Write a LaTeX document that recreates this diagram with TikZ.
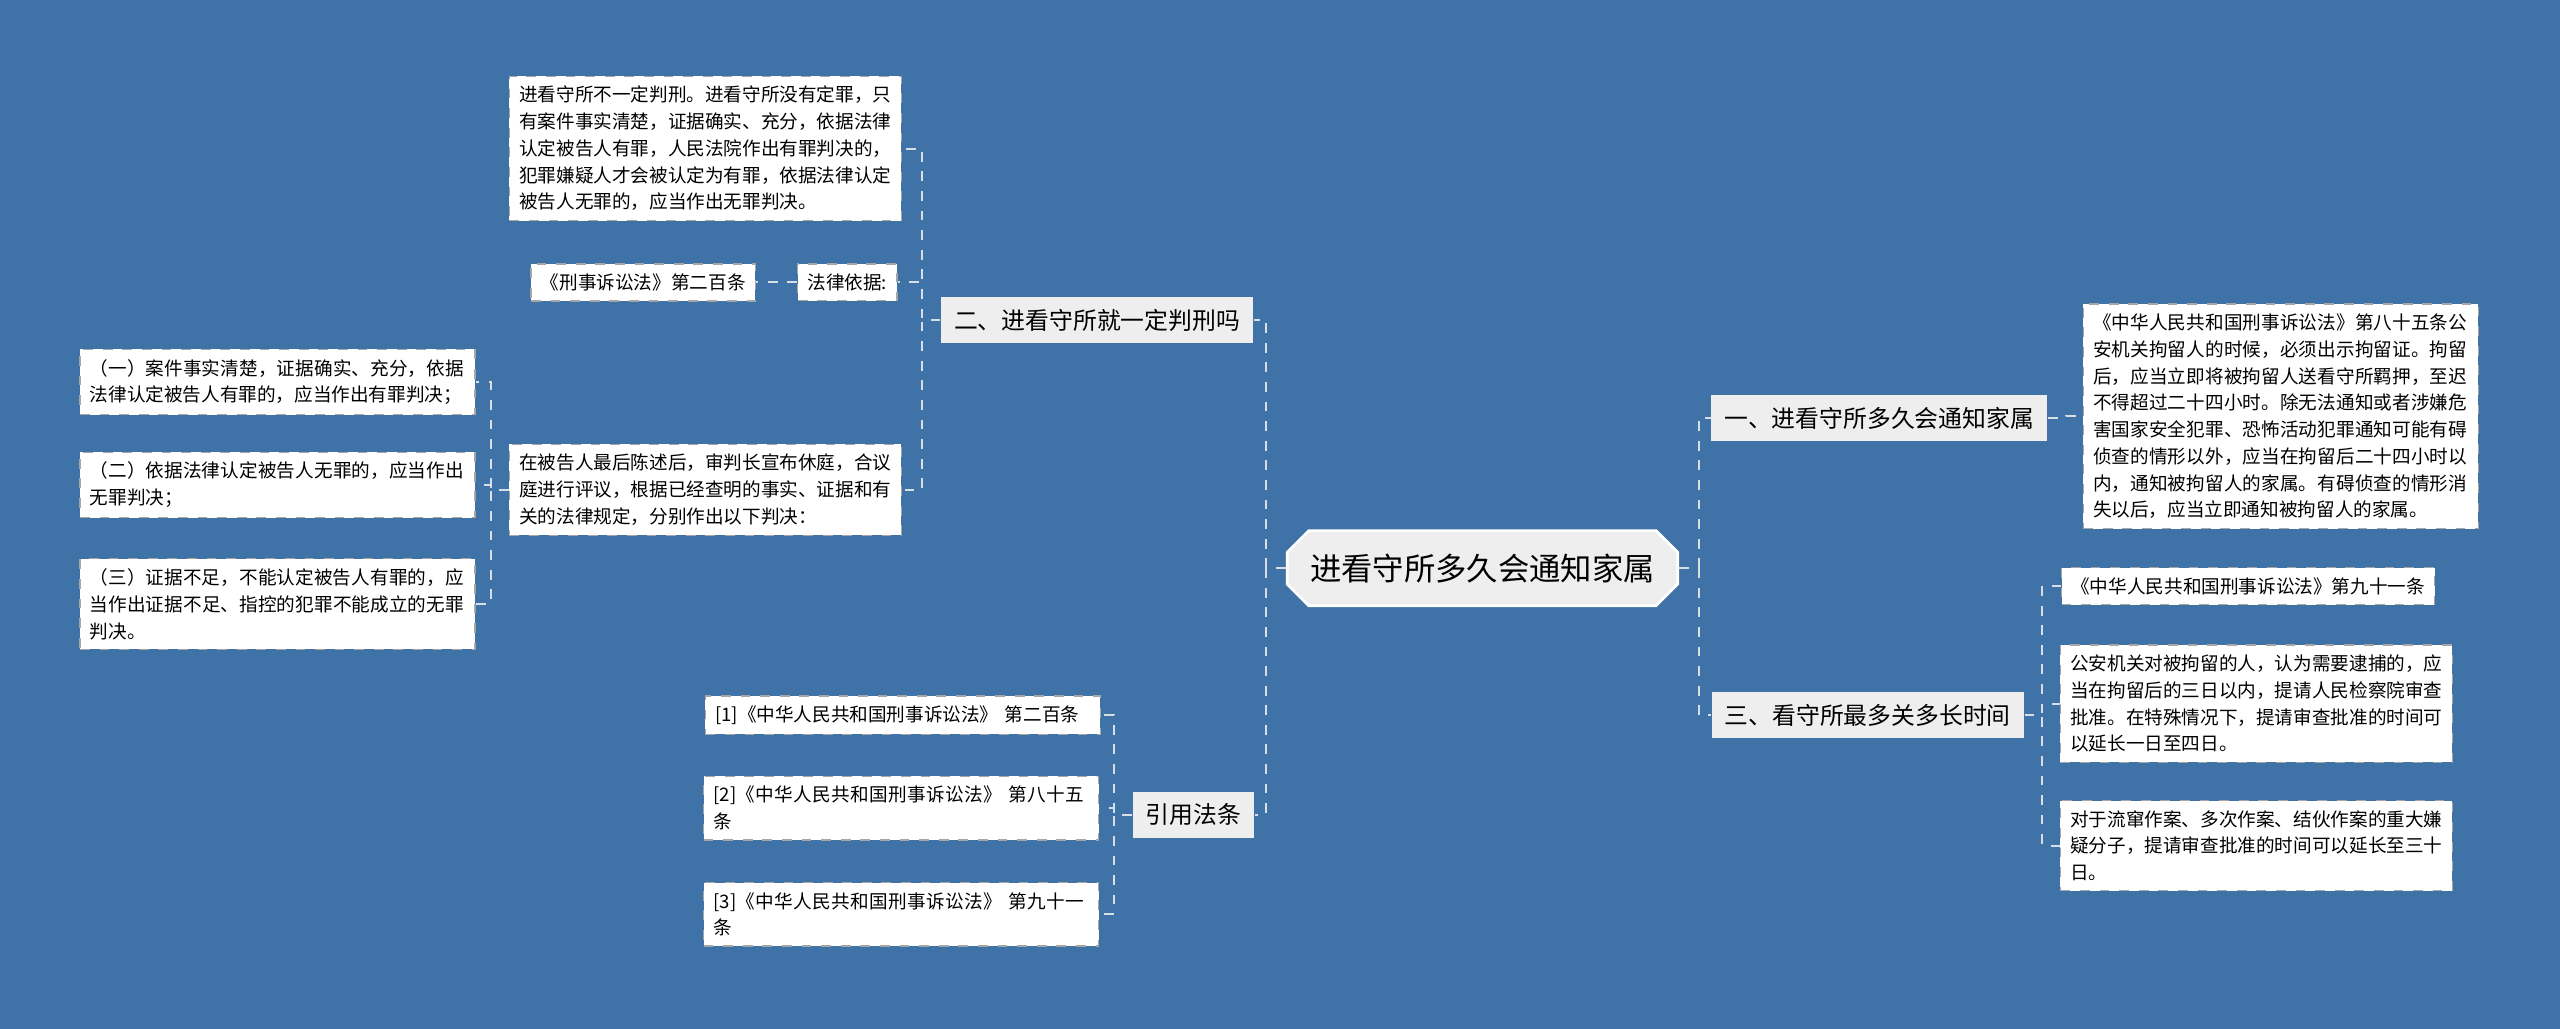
\documentclass[tikz,border=0pt]{standalone}
\usepackage{fontspec}
\setmainfont{Noto Sans CJK SC}
\XeTeXlinebreaklocale "zh"
\XeTeXlinebreakskip=0pt plus 1pt
\usetikzlibrary{shapes.misc}
\definecolor{bgblue}{HTML}{3F72A6}
\definecolor{boxgray}{HTML}{EEEEEE}
\definecolor{linkgray}{HTML}{D8DEE6}
\newcommand{\leaffont}{\fontsize{5.7}{8.2}\selectfont}

\begin{document}
\begin{tikzpicture}[x=0.5pt,y=-0.5pt]
    \tikzstyle{root}=[chamfered rectangle,chamfered rectangle xsep=3pt,fill=boxgray,draw=white,line width=0.8pt,inner xsep=4pt,minimum height=23pt,font=\fontsize{9.6}{11}\selectfont]
    \tikzstyle{branch}=[fill=boxgray,inner xsep=4pt,minimum height=14pt,font=\fontsize{7.3}{9}\selectfont]
    \tikzstyle{leaf}=[fill=white,draw=gray!70,dashed,line width=0.4pt,inner sep=3pt,align=left,font=\leaffont]
    \tikzstyle{link}=[draw=linkgray,dashed,line width=0.6pt]

    \fill[bgblue] (0,0) rectangle (1568,630);

    \node[root] (c) at (908,348) {进看守所多久会通知家属};

    % right side
    \node[branch] (r1) at (1151,256) {一、进看守所多久会通知家属};
    \node[leaf,text width=115pt] (r1a) at (1397,255) {《中华人民共和国刑事诉讼法》第八十五条公安机关拘留人的时候，必须出示拘留证。拘留后，应当立即将被拘留人送看守所羁押，至迟不得超过二十四小时。除无法通知或者涉嫌危害国家安全犯罪、恐怖活动犯罪通知可能有碍侦查的情形以外，应当在拘留后二十四小时以内，通知被拘留人的家属。有碍侦查的情形消失以后，应当立即通知被拘留人的家属。};

    \node[branch] (r3) at (1144,438) {三、看守所最多关多长时间};
    \node[leaf] (r3a) at (1377,359) {《中华人民共和国刑事诉讼法》第九十一条};
    \node[leaf,text width=114pt] (r3b) at (1382,431) {公安机关对被拘留的人，认为需要逮捕的，应当在拘留后的三日以内，提请人民检察院审查批准。在特殊情况下，提请审查批准的时间可以延长一日至四日。};
    \node[leaf,text width=114pt] (r3c) at (1382,518) {对于流窜作案、多次作案、结伙作案的重大嫌疑分子，提请审查批准的时间可以延长至三十日。};

    % left side
    \node[branch] (l2) at (672,196) {二、进看守所就一定判刑吗};
    \node[leaf,text width=114pt] (l2a) at (432,91) {进看守所不一定判刑。进看守所没有定罪，只有案件事实清楚，证据确实、充分，依据法律认定被告人有罪，人民法院作出有罪判决的，犯罪嫌疑人才会被认定为有罪，依据法律认定被告人无罪的，应当作出无罪判决。};
    \node[leaf] (l2b) at (519,173) {法律依据:};
    \node[leaf] (l2b1) at (394,173) {《刑事诉讼法》第二百条};
    \node[leaf,text width=114pt] (l2c) at (432,300) {在被告人最后陈述后，审判长宣布休庭，合议庭进行评议，根据已经查明的事实、证据和有关的法律规定，分别作出以下判决：};
    \node[leaf,text width=115pt] (l2c1) at (170,234) {（一）案件事实清楚，证据确实、充分，依据法律认定被告人有罪的，应当作出有罪判决；};
    \node[leaf,text width=115pt] (l2c2) at (170,297) {（二）依据法律认定被告人无罪的，应当作出无罪判决；};
    \node[leaf,text width=115pt] (l2c3) at (170,370) {（三）证据不足，不能认定被告人有罪的，应当作出证据不足、指控的犯罪不能成立的无罪判决。};

    \node[branch] (l4) at (731,499) {引用法条};
    \node[leaf,text width=115pt] (l4a) at (553,438) {[1]《中华人民共和国刑事诉讼法》 第二百条};
    \node[leaf,text width=115pt] (l4b) at (552,495) {[2]《中华人民共和国刑事诉讼法》 第八十五条};
    \node[leaf,text width=115pt] (l4c) at (552,560) {[3]《中华人民共和国刑事诉讼法》 第九十一条};

    % connectors
    \draw[link] (c.east) -- ++(12,0) |- (r1.west);
    \draw[link] (c.east) -- ++(12,0) |- (r3.west);
    \draw[link] (r1.east) -- ++(11,0) |- (r1a.west);
    \draw[link] (r3.east) -- ++(11,0) |- (r3a.west);
    \draw[link] (r3.east) -- ++(11,0) |- (r3b.west);
    \draw[link] (r3.east) -- ++(11,0) |- (r3c.west);

    \draw[link] (c.west) -- ++(-12,0) |- (l2.east);
    \draw[link] (c.west) -- ++(-12,0) |- (l4.east);
    \draw[link] (l2.west) -- ++(-11,0) |- (l2a.east);
    \draw[link] (l2.west) -- ++(-11,0) |- (l2b.east);
    \draw[link] (l2.west) -- ++(-11,0) |- (l2c.east);
    \draw[link] (l2b.west) -- (l2b1.east);
    \draw[link] (l2c.west) -- ++(-11,0) |- (l2c1.east);
    \draw[link] (l2c.west) -- ++(-11,0) |- (l2c2.east);
    \draw[link] (l2c.west) -- ++(-11,0) |- (l2c3.east);
    \draw[link] (l4.west) -- ++(-11,0) |- (l4a.east);
    \draw[link] (l4.west) -- ++(-11,0) |- (l4b.east);
    \draw[link] (l4.west) -- ++(-11,0) |- (l4c.east);
\end{tikzpicture}
\end{document}
